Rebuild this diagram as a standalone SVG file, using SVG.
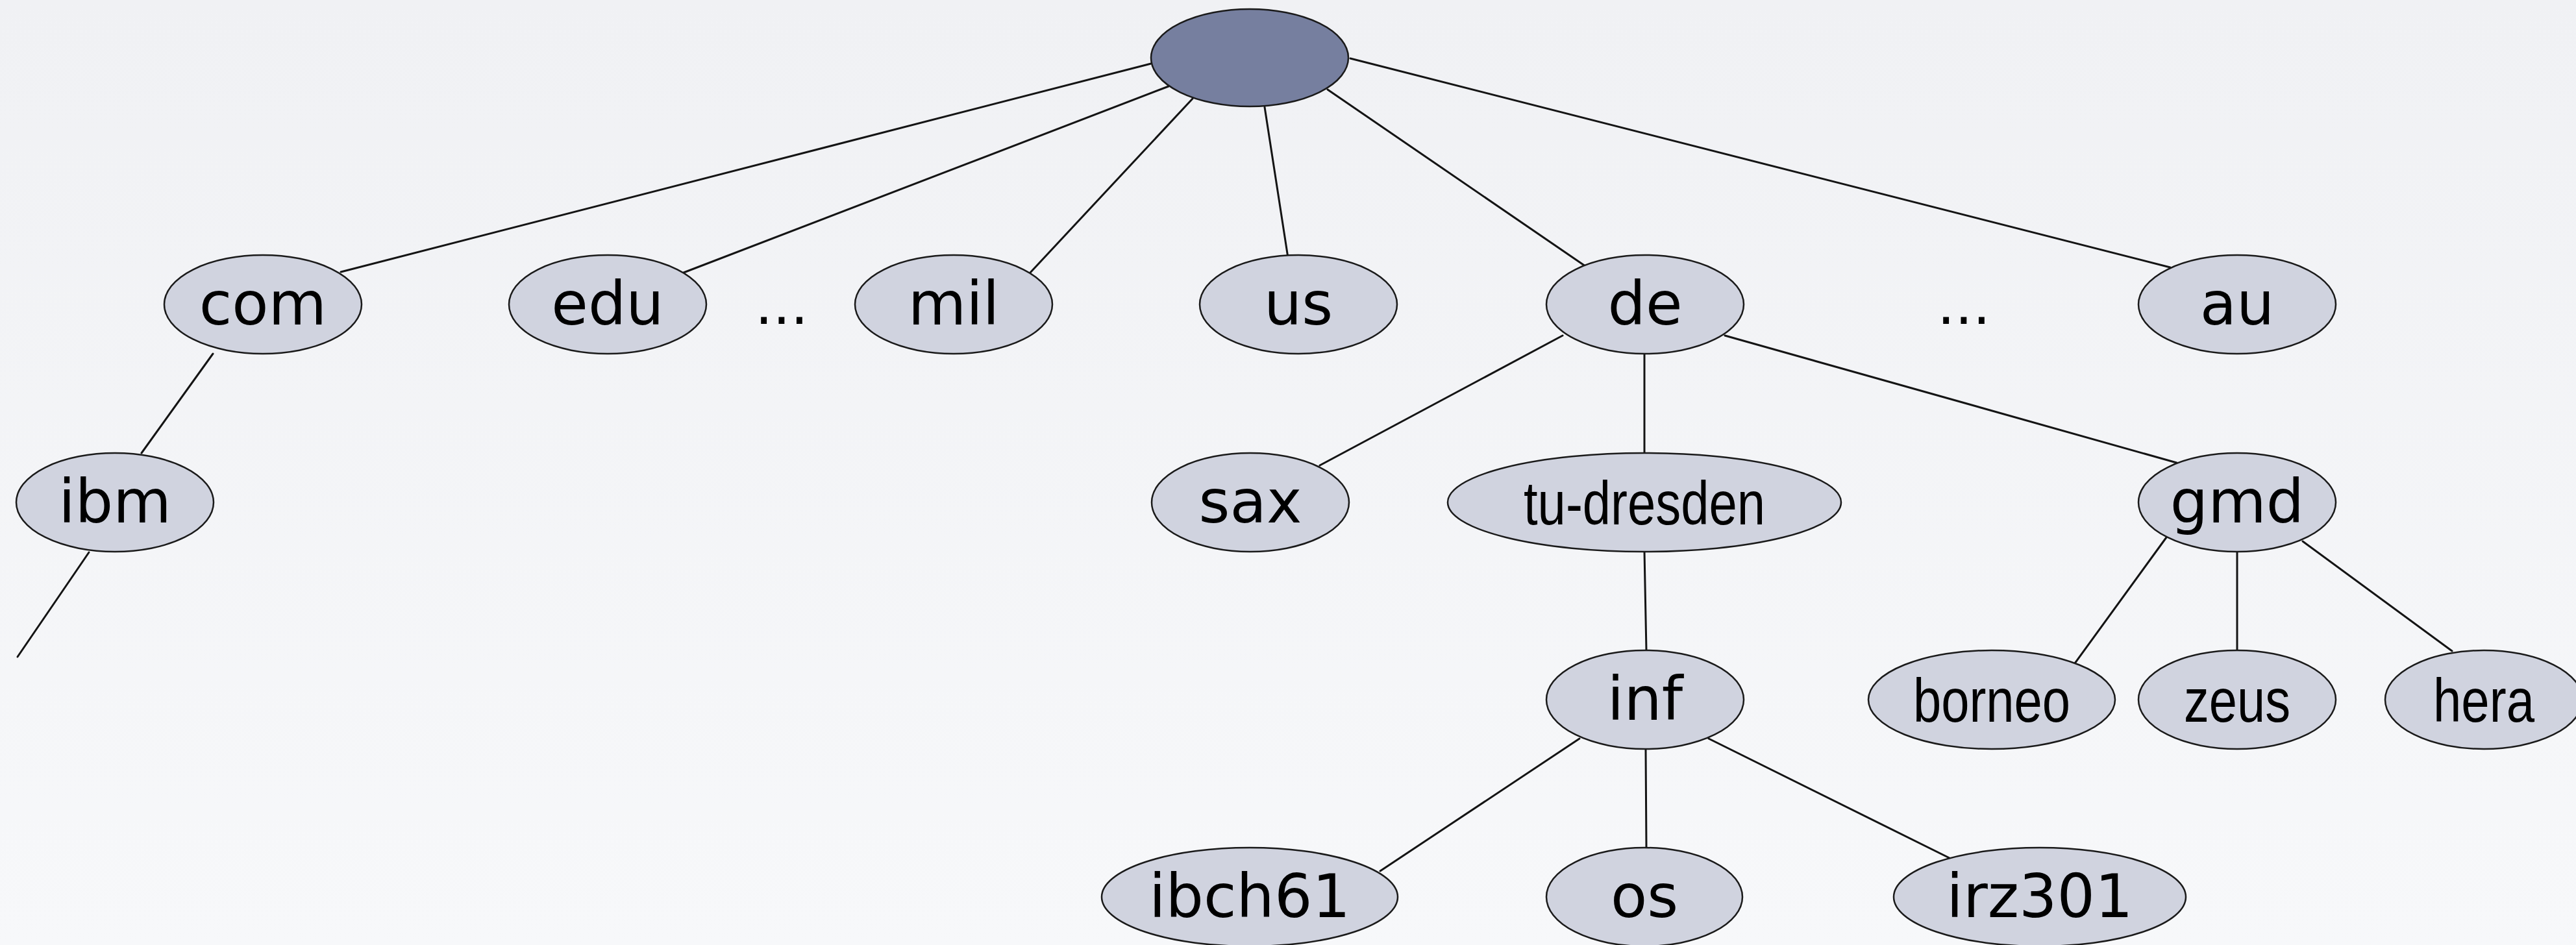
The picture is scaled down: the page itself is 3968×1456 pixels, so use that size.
<svg xmlns="http://www.w3.org/2000/svg" width="3968" height="1456" viewBox="0 0 3968 1456">
  <defs>
    <linearGradient id="bg" x1="0" y1="0" x2="0" y2="1">
      <stop offset="0" stop-color="#f0f1f4"/>
      <stop offset="1" stop-color="#f7f8fa"/>
    </linearGradient>
    <style>
      .edge { stroke: #141414; stroke-width: 3; fill: none; stroke-linecap: round; }
      .node { fill: #d0d3df; stroke: #1a1a1a; stroke-width: 2.5; }
      .root { fill: #767f9f; stroke: #1a1a1a; stroke-width: 2.5; }
      .lbl { font-family: "DejaVu Sans", "Liberation Sans", sans-serif; font-size: 92px; fill: #000; text-anchor: middle; }
      .nar { font-family: "Liberation Sans", "Arial", sans-serif; font-size: 95px; fill: #000; text-anchor: middle; }
      .dots { font-family: "DejaVu Sans", sans-serif; font-size: 86px; fill: #000; text-anchor: middle; }
    </style>
  </defs>

  <rect x="0" y="0" width="3968" height="1456" fill="url(#bg)"/>

  <!-- tree edges -->
  <g id="connectors">
    <line class="edge" x1="1773" y1="98" x2="525" y2="419"/>
    <line class="edge" x1="1800" y1="133" x2="1053" y2="420"/>
    <line class="edge" x1="1837" y1="152" x2="1587" y2="420"/>
    <line class="edge" x1="1948" y1="165" x2="1984" y2="397"/>
    <line class="edge" x1="2045" y1="138" x2="2442" y2="410"/>
    <line class="edge" x1="2080" y1="90" x2="3343" y2="412"/>
    <line class="edge" x1="328" y1="545" x2="218" y2="698"/>
    <line class="edge" x1="137" y1="851" x2="27" y2="1012"/>
    <line class="edge" x1="2407" y1="517" x2="2033" y2="717"/>
    <line class="edge" x1="2533" y1="545" x2="2533" y2="698"/>
    <line class="edge" x1="2657" y1="517" x2="3353" y2="713"/>
    <line class="edge" x1="2533" y1="850" x2="2536" y2="1003"/>
    <line class="edge" x1="2433" y1="1138" x2="2126" y2="1342"/>
    <line class="edge" x1="2535" y1="1154" x2="2536" y2="1308"/>
    <line class="edge" x1="2632" y1="1138" x2="3003" y2="1322"/>
    <line class="edge" x1="3337" y1="828" x2="3196" y2="1022"/>
    <line class="edge" x1="3446" y1="850" x2="3446" y2="1002"/>
    <line class="edge" x1="3547" y1="834" x2="3777" y2="1003"/>
  </g>

  <!-- root -->
  <g id="root"><ellipse class="root" cx="1925" cy="89" rx="152" ry="75"/></g>

  <!-- top-level domains -->
  <g id="com"><ellipse class="node" cx="405" cy="469" rx="152" ry="76"/><text class="lbl" x="405" y="500">com</text></g>
  <g id="edu"><ellipse class="node" cx="936" cy="469" rx="152" ry="76"/><text class="lbl" x="936" y="500">edu</text></g>
  <text class="dots" x="1204" y="499">...</text>
  <g id="mil"><ellipse class="node" cx="1469" cy="469" rx="152" ry="76"/><text class="lbl" x="1469" y="500">mil</text></g>
  <g id="us"><ellipse class="node" cx="2000" cy="469" rx="152" ry="76"/><text class="lbl" x="2000" y="500">us</text></g>
  <g id="de"><ellipse class="node" cx="2534" cy="469" rx="152" ry="76"/><text class="lbl" x="2534" y="500">de</text></g>
  <text class="dots" x="3025" y="499">...</text>
  <g id="au"><ellipse class="node" cx="3446" cy="469" rx="152" ry="76"/><text class="lbl" x="3446" y="500">au</text></g>

  <!-- second level -->
  <g id="ibm"><ellipse class="node" cx="177" cy="774" rx="152" ry="76"/><text class="lbl" x="177" y="805">ibm</text></g>
  <g id="sax"><ellipse class="node" cx="1926" cy="774" rx="152" ry="76"/><text class="lbl" x="1926" y="805">sax</text></g>
  <g id="tu-dresden"><ellipse class="node" cx="2533" cy="774" rx="303" ry="76"/><text class="nar" x="2533" y="808" textLength="372" lengthAdjust="spacingAndGlyphs">tu-dresden</text></g>
  <g id="gmd"><ellipse class="node" cx="3446" cy="774" rx="152" ry="76"/><text class="lbl" x="3446" y="805">gmd</text></g>

  <!-- third level -->
  <g id="inf"><ellipse class="node" cx="2534" cy="1078" rx="152" ry="76"/><text class="lbl" x="2534" y="1109">inf</text></g>
  <g id="borneo"><ellipse class="node" cx="3068" cy="1078" rx="190" ry="76"/><text class="nar" x="3068" y="1112" textLength="242" lengthAdjust="spacingAndGlyphs">borneo</text></g>
  <g id="zeus"><ellipse class="node" cx="3446" cy="1078" rx="152" ry="76"/><text class="nar" x="3446" y="1112" textLength="164" lengthAdjust="spacingAndGlyphs">zeus</text></g>
  <g id="hera"><ellipse class="node" cx="3826" cy="1078" rx="152" ry="76"/><text class="nar" x="3826" y="1112" textLength="156" lengthAdjust="spacingAndGlyphs">hera</text></g>

  <!-- fourth level -->
  <g id="ibch61"><ellipse class="node" cx="1925" cy="1382" rx="228" ry="76"/><text class="lbl" x="1925" y="1413">ibch61</text></g>
  <g id="os"><ellipse class="node" cx="2533" cy="1382" rx="151" ry="76"/><text class="lbl" x="2533" y="1413">os</text></g>
  <g id="irz301"><ellipse class="node" cx="3142" cy="1382" rx="225" ry="76"/><text class="lbl" x="3142" y="1413">irz301</text></g>
</svg>
